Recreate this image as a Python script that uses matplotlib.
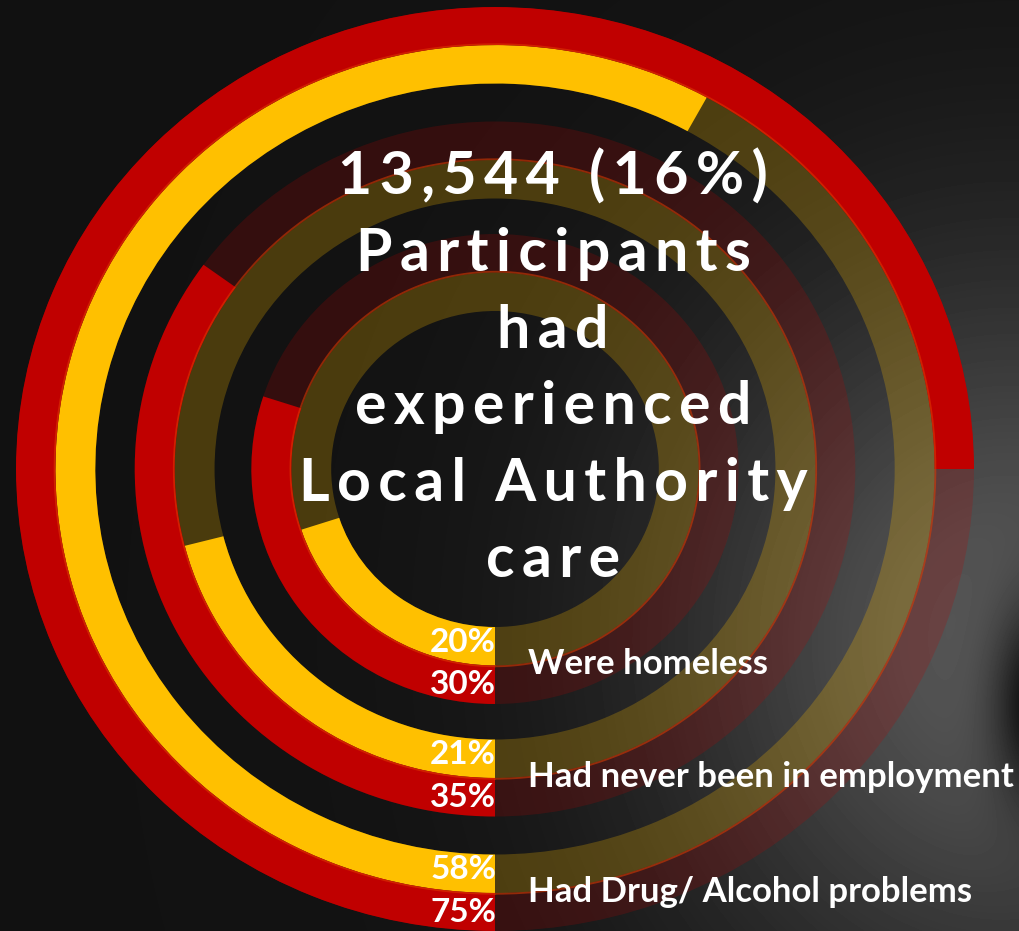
import numpy as np
import matplotlib.pyplot as plt

# Data
categories = ["Were homeless", "Had never been in employment", "Had Drug/ Alcohol problems"]
pct_yellow = [20, 21, 58]
pct_red = [30, 35, 75]
headline = ["13,544 (16%)", "Participants", "had", "experienced", "Local Authority", "care"]

YELLOW = "#FFC000"
RED = "#C00000"
FONT = ["Lato", "DejaVu Sans"]

W, H = 1020, 931
fig = plt.figure(figsize=(W / 100, H / 100), dpi=100)

# background: dark with a lighter patch towards the lower right
bg_ax = fig.add_axes([0, 0, 1, 1])
yy, xx = np.mgrid[0:H, 0:W]
bg = 0.07 + 0.27 * np.exp(-(((xx - 1010) / 340.0) ** 2 + ((yy - 640) / 380.0) ** 2))
bg -= 0.30 * np.exp(-(((xx - 1040) / 45.0) ** 2 + ((yy - 700) / 95.0) ** 2))
bg_ax.imshow(np.clip(bg, 0, 1), cmap="gray", vmin=0, vmax=1, aspect="auto",
             extent=[0, W, H, 0], interpolation="bilinear")
bg_ax.set_xlim(0, W)
bg_ax.set_ylim(H, 0)
bg_ax.axis("off")

# ring layout (pixels)
cx, cy = 495, 469
rx, ry = 479, 462
r_max = 462.0
ring_w = 38.5
yellow_inner = [158, 270.5, 385.5]

ax = fig.add_axes([(cx - rx) / W, (H - cy - ry) / H, 2 * rx / W, 2 * ry / H],
                  projection="polar")
ax.set_aspect("auto")
ax.set_theta_zero_location("S")
ax.set_theta_direction(-1)
ax.set_ylim(0, r_max)
ax.axis("off")
ax.patch.set_alpha(0)

for i in range(len(categories)):
    ry_in = yellow_inner[i]
    rr_in = ry_in + ring_w
    # faint full tracks
    ax.bar(0, ring_w, width=2 * np.pi, bottom=ry_in, align="edge",
           color=YELLOW, alpha=0.24, linewidth=0)
    ax.bar(0, ring_w, width=2 * np.pi, bottom=rr_in, align="edge",
           color=RED, alpha=0.2, linewidth=0)
    # values
    ax.bar(0, ring_w, width=np.deg2rad(pct_yellow[i] * 3.6), bottom=ry_in,
           align="edge", color=YELLOW, linewidth=0)
    ax.bar(0, ring_w, width=np.deg2rad(pct_red[i] * 3.6), bottom=rr_in,
           align="edge", color=RED, linewidth=0)
    # thin orange seam between the two rings
    th = np.linspace(0, 2 * np.pi, 400)
    ax.plot(th, np.full_like(th, rr_in + 0.8), color="#E03C00", lw=1.3, alpha=0.55)

    ax.annotate(f"{pct_yellow[i]}%", xy=(0, ry_in + ring_w / 2), xytext=(1, 4),
                textcoords="offset pixels", ha="right", va="center", color="white",
                fontsize=24, fontweight="bold", family=FONT)
    ax.annotate(f"{pct_red[i]}%", xy=(0, rr_in + ring_w / 2), xytext=(1, 0),
                textcoords="offset pixels", ha="right", va="center", color="white",
                fontsize=24, fontweight="bold", family=FONT)
    ax.annotate(categories[i], xy=(0, rr_in), xytext=(33, 1),
                textcoords="offset pixels", ha="left", va="center", color="white",
                fontsize=25, fontweight="bold", family=FONT)

# headline in the middle, letter-spaced
base0, step = 195, 76.4
for k, line in enumerate(headline):
    spaced = "\u2009".join(line)
    fig.text(553 / W, 1 - (base0 + k * step) / H, spaced, ha="center", va="baseline",
             color="white", fontsize=42.5, fontweight="bold", family=FONT)

fig.savefig("out.png", dpi=100, facecolor="#141414")
